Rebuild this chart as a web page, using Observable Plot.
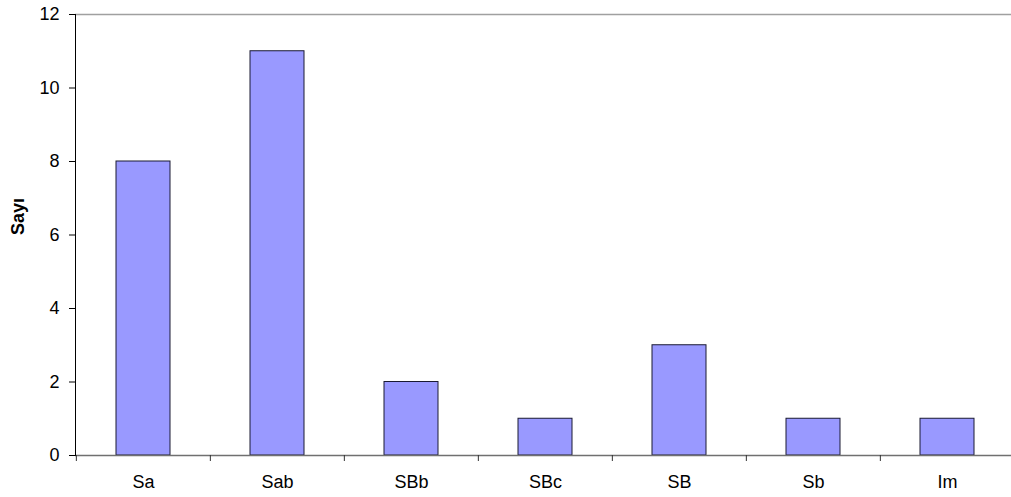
<!DOCTYPE html>
<html>
<head>
<meta charset="utf-8">
<script src="https://cdn.jsdelivr.net/npm/d3@7"></script>
<script src="https://cdn.jsdelivr.net/npm/@observablehq/plot@0.6"></script>
<style>
  html, body { margin: 0; padding: 0; background: #fff; }
  #chart svg { display: block; }
</style>
</head>
<body>
<div id="chart"></div>
<script>
const categories = ["Sa", "Sab", "SBb", "SBc", "SB", "Sb", "Im"];
const counts = [8, 11, 2, 1, 3, 1, 1];
const yTicks = [0, 2, 4, 6, 8, 10, 12];
const yLabel = "Sayı";

const data = categories.map((c, i) => ({cat: c, value: counts[i]}));

const W = 1011, H = 497;
const mL = 75, mT = 14, mB = 42;
const xRange = [75, 1015];
const step = (xRange[1] - xRange[0]) / categories.length;
const font = "Arial, 'Liberation Sans', sans-serif";

const chart = Plot.plot({
  width: W,
  height: H,
  marginLeft: mL,
  marginRight: 0,
  marginTop: mT,
  marginBottom: mB,
  style: {fontFamily: font, fontSize: "18px", color: "#000", background: "#fff"},
  x: {domain: categories, range: xRange, paddingInner: 0.6, paddingOuter: 0.3, axis: null},
  y: {domain: [0, 12], axis: null},
  marks: [
    Plot.ruleY([12], {stroke: "#a0a0a0", strokeWidth: 1.5}),
    Plot.barY(data, {x: "cat", y: "value", fill: "#9999ff", stroke: "#1a1a33", strokeWidth: 1}),
    Plot.ruleY([0], {stroke: "#707070", strokeWidth: 1.5}),
    Plot.frame({anchor: "left", stroke: "#000", strokeWidth: 1}),
    Plot.axisY({ticks: yTicks, tickSize: 6, tickPadding: 10, label: null, fontSize: 18, stroke: "#000"}),
    Plot.axisX({ticks: categories, tickSize: 6, tickFormat: () => "", dx: -step / 2, stroke: "#333", label: null}),
    Plot.axisX({ticks: categories, tickSize: 0, tickPadding: 20, label: null, fontSize: 18}),
    Plot.text([yLabel], {frameAnchor: "left", rotate: -90, dx: -57, fontWeight: "bold", fontSize: 18})
  ]
});

document.getElementById("chart").appendChild(chart);
</script>
</body>
</html>
